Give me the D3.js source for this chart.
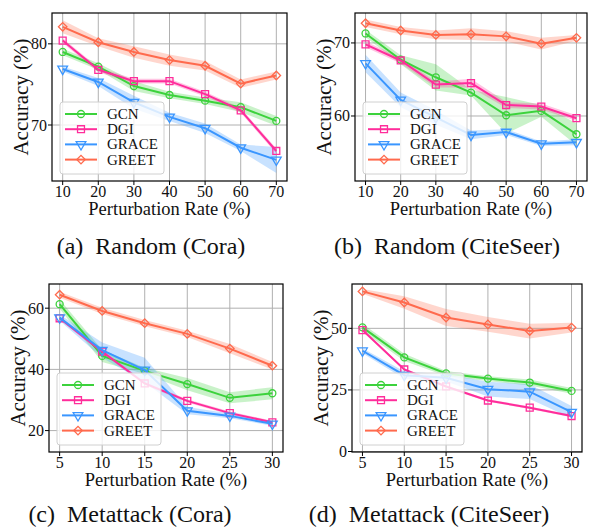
<!DOCTYPE html>
<html>
<head>
<meta charset="utf-8">
<script src="https://cdn.jsdelivr.net/npm/d3@7"></script>
</head>
<body style="margin:0">
<svg width="589" height="527"></svg>
<script>
const methods = ['GCN', 'DGI', 'GRACE', 'GREET']
const colors = ['#3cd23c', '#ff2d9b', '#3a96ff', '#ff6a4d']
const FONT = 'Liberation Serif'

const randomRates = [10, 20, 30, 40, 50, 60, 70]
const metaRates = [5, 10, 15, 20, 25, 30]

// (a) Random, Cora
const randCoraGCN = [79.0, 77.2, 74.8, 73.7, 73.0, 72.2, 70.5]
const randCoraDGI = [80.4, 76.8, 75.4, 75.4, 73.8, 71.8, 66.8]
const randCoraGRACE = [76.9, 75.3, 72.8, 71.0, 69.6, 67.2, 65.7]
const randCoraGREET = [82.1, 80.2, 79.0, 78.0, 77.3, 75.1, 76.1]
const randCoraGCNsd = [0.4, 0.4, 0.6, 0.4, 0.4, 0.6, 0.6]
const randCoraDGIsd = [0.3, 0.3, 0.3, 0.3, 0.3, 0.3, 0.3]
const randCoraGRACEsd = [0.3, 0.5, 0.8, 0.5, 0.6, 0.4, 1.6]
const randCoraGREETsd = [0.8, 0.5, 0.7, 0.7, 0.6, 0.5, 0.5]

// (b) Random, CiteSeer
const randCiteGCN = [71.3, 67.7, 65.3, 63.2, 60.1, 60.7, 57.5]
const randCiteDGI = [69.8, 67.6, 64.3, 64.5, 61.5, 61.3, 59.7]
const randCiteGRACE = [67.2, 62.2, 59.8, 57.4, 57.8, 56.2, 56.4]
const randCiteGREET = [72.7, 71.7, 71.1, 71.2, 70.9, 69.9, 70.7]
const randCiteGCNsd = [0.5, 0.6, 1.8, 0.4, 2.5, 0.8, 1.5]
const randCiteDGIsd = [0.4, 0.4, 0.4, 0.6, 0.4, 0.4, 0.4]
const randCiteGRACEsd = [1.2, 1.0, 1.0, 0.6, 0.4, 0.3, 0.4]
const randCiteGREETsd = [0.5, 0.5, 0.6, 0.8, 0.7, 0.8, 0.4]

// (c) Metattack, Cora
const metaCoraGCN = [61.3, 44.4, 39.5, 35.2, 30.7, 32.2]
const metaCoraDGI = [56.7, 45.8, 35.4, 29.7, 25.7, 22.7]
const metaCoraGRACE = [56.9, 46.3, 39.8, 26.5, 24.8, 22.2]
const metaCoraGREET = [64.4, 59.1, 55.1, 51.6, 46.8, 41.2]
const metaCoraGCNsd = [1.5, 2.0, 1.0, 2.0, 1.8, 2.0]
const metaCoraDGIsd = [0.5, 0.5, 0.5, 0.5, 0.5, 0.5]
const metaCoraGRACEsd = [1.0, 2.5, 4.0, 1.2, 0.8, 0.6]
const metaCoraGREETsd = [1.0, 1.0, 1.0, 1.0, 1.5, 1.2]

// (d) Metattack, CiteSeer
const metaCiteGCN = [50.4, 38.2, 31.7, 29.6, 28.0, 24.6]
const metaCiteDGI = [49.3, 33.3, 26.4, 20.7, 17.8, 14.4]
const metaCiteGRACE = [40.9, 31.0, 29.9, 25.3, 24.3, 16.0]
const metaCiteGREET = [65.0, 60.5, 54.4, 51.6, 48.9, 50.3]
const metaCiteGCNsd = [1.5, 1.5, 1.0, 1.0, 1.2, 1.2]
const metaCiteDGIsd = [0.5, 0.5, 0.5, 0.5, 0.5, 0.5]
const metaCiteGRACEsd = [1.0, 1.5, 1.5, 3.0, 3.0, 2.5]
const metaCiteGREETsd = [1.0, 2.5, 3.5, 3.0, 3.0, 2.0]

const svg = d3.select('svg').attr('font-family', FONT)

const panels = [
	{ id: 'a', box: [52, 287, 13, 181], xDom: [7, 73], yDom: [63.1, 83.8], yTicks: [70, 80], rates: randomRates,
		means: [randCoraGCN, randCoraDGI, randCoraGRACE, randCoraGREET],
		sds: [randCoraGCNsd, randCoraDGIsd, randCoraGRACEsd, randCoraGREETsd],
		caption: '(a)  Random (Cora)', capX: 151, capY: 254 },
	{ id: 'b', box: [355, 587, 13, 181], xDom: [7, 73], yDom: [51.1, 74.1], yTicks: [60, 70], rates: randomRates,
		means: [randCiteGCN, randCiteDGI, randCiteGRACE, randCiteGREET],
		sds: [randCiteGCNsd, randCiteDGIsd, randCiteGRACEsd, randCiteGREETsd],
		caption: '(b)  Random (CiteSeer)', capX: 447, capY: 254 },
	{ id: 'c', box: [49, 283, 284, 452], xDom: [3.75, 31.25], yDom: [13, 67.9], yTicks: [20, 40, 60], rates: metaRates,
		means: [metaCoraGCN, metaCoraDGI, metaCoraGRACE, metaCoraGREET],
		sds: [metaCoraGCNsd, metaCoraDGIsd, metaCoraGRACEsd, metaCoraGREETsd],
		caption: '(c)  Metattack (Cora)', capX: 130, capY: 522 },
	{ id: 'd', box: [352, 582, 284, 452], xDom: [3.75, 31.25], yDom: [-0.2, 68], yTicks: [0, 25, 50], rates: metaRates,
		means: [metaCiteGCN, metaCiteDGI, metaCiteGRACE, metaCiteGREET],
		sds: [metaCiteGCNsd, metaCiteDGIsd, metaCiteGRACEsd, metaCiteGREETsd],
		caption: '(d)  Metattack (CiteSeer)', capX: 429, capY: 522 },
]

const markerPath = (i, size) => {
	if (i === 0) return d3.symbol(d3.symbolCircle, size * 0.8)()
	if (i === 1) return d3.symbol(d3.symbolSquare, size)()
	if (i === 2) return d3.symbol(d3.symbolTriangle, size * 0.85)()
	return d3.symbol(d3.symbolSquare, size * 0.75)()
}
const markerRot = i => i === 2 ? 180 : (i === 3 ? 45 : 0)

const addText = (sel, size) => sel.append('text')
	.attr('font-family', FONT)
	.attr('style', `font-family: '${FONT}'; white-space: pre;`)
	.attr('font-size', size).attr('fill', '#111')

const drawPanel = p => {
	const [l, r, t, b] = p.box
	const x = d3.scaleLinear().domain(p.xDom).range([l, r])
	const y = d3.scaleLinear().domain(p.yDom).range([b, t])
	const g = svg.append('g')

	g.append('clipPath').attr('id', 'clip-' + p.id)
		.append('rect').attr('x', l).attr('y', t).attr('width', r - l).attr('height', b - t)

	// grid
	g.selectAll('.gx').data(p.rates).enter().append('line')
		.attr('x1', d => x(d)).attr('x2', d => x(d)).attr('y1', t).attr('y2', b)
		.attr('stroke', '#b0b0b0').attr('stroke-width', 1)
	g.selectAll('.gy').data(p.yTicks).enter().append('line')
		.attr('y1', d => y(d)).attr('y2', d => y(d)).attr('x1', l).attr('x2', r)
		.attr('stroke', '#b0b0b0').attr('stroke-width', 1)

	const plot = g.append('g').attr('clip-path', `url(#clip-${p.id})`)

	methods.forEach((m, i) => {
		const pts = p.rates.map((rate, j) => ({ rate, mean: p.means[i][j], sd: p.sds[i][j] }))
		const area = d3.area()
			.x(d => x(d.rate))
			.y0(d => y(d.mean - d.sd))
			.y1(d => y(d.mean + d.sd))
		plot.append('path').attr('d', area(pts))
			.attr('fill', colors[i]).attr('fill-opacity', 0.28)
	})

	methods.forEach((m, i) => {
		const pts = p.rates.map((rate, j) => ({ rate, mean: p.means[i][j] }))
		const line = d3.line().x(d => x(d.rate)).y(d => y(d.mean))
		plot.append('path').attr('d', line(pts))
			.attr('fill', 'none').attr('stroke', colors[i]).attr('stroke-width', 2)
		plot.selectAll('.mk' + i).data(pts).enter().append('path')
			.attr('d', markerPath(i, 48))
			.attr('transform', d => `translate(${x(d.rate)},${y(d.mean)}) rotate(${markerRot(i)})`)
			.attr('fill', 'none').attr('stroke', colors[i]).attr('stroke-width', 1.3)
	})

	// spines
	g.append('rect').attr('x', l).attr('y', t).attr('width', r - l).attr('height', b - t)
		.attr('fill', 'none').attr('stroke', '#000').attr('stroke-width', 1.2)

	// ticks
	g.selectAll('.tx').data(p.rates).enter().append('line')
		.attr('x1', d => x(d)).attr('x2', d => x(d)).attr('y1', b).attr('y2', b + 4)
		.attr('stroke', '#000').attr('stroke-width', 1)
	p.rates.forEach(d => {
		addText(g, 16).attr('x', x(d)).attr('y', b + 16).attr('text-anchor', 'middle').text(d)
	})
	g.selectAll('.ty').data(p.yTicks).enter().append('line')
		.attr('y1', d => y(d)).attr('y2', d => y(d)).attr('x1', l - 4).attr('x2', l)
		.attr('stroke', '#000').attr('stroke-width', 1)
	p.yTicks.forEach(d => {
		addText(g, 16).attr('x', l - 5).attr('y', y(d) + 5.5)
			.attr('text-anchor', 'end').text(d)
	})

	// axis labels
	addText(g, 18.5).attr('x', (l + r) / 2).attr('y', b + 34)
		.attr('text-anchor', 'middle').text('Perturbation Rate (%)')
	addText(g, 21)
		.attr('transform', `translate(${l - 24},${(t + b) / 2}) rotate(-90)`)
		.attr('text-anchor', 'middle').text('Accuracy (%)')

	// caption
	addText(g, 24).attr('x', p.capX).attr('y', p.capY)
		.attr('text-anchor', 'middle').text(p.caption)

	// legend
	const lx = l + 8, ly = b - 79
	const leg = g.append('g').attr('transform', `translate(${lx},${ly})`)
	leg.append('rect').attr('width', 104).attr('height', 72).attr('rx', 3)
		.attr('fill', '#fff').attr('fill-opacity', 0.8).attr('stroke', '#d0d0d0').attr('stroke-width', 1)
	methods.forEach((m, i) => {
		const yy = 12 + i * 15.2
		leg.append('line').attr('x1', 5).attr('x2', 37).attr('y1', yy).attr('y2', yy)
			.attr('stroke', colors[i]).attr('stroke-width', 2)
		leg.append('path').attr('d', markerPath(i, 48))
			.attr('transform', `translate(21,${yy}) rotate(${markerRot(i)})`)
			.attr('fill', 'none').attr('stroke', colors[i]).attr('stroke-width', 1.3)
		addText(leg, 15).attr('x', 47).attr('y', yy + 5).text(m)
	})
}

panels.forEach(drawPanel)
</script>
</body>
</html>
